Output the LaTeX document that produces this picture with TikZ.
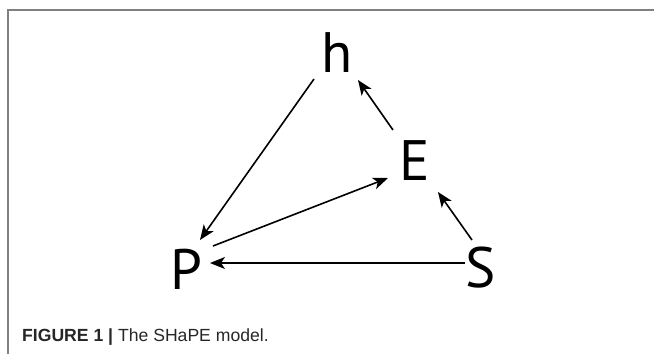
\documentclass[tikz,border=0pt]{standalone}
\usepackage{fontspec}
\setmainfont{Liberation Sans}
\newfontfamily\varfont{PT Sans}
\usetikzlibrary{arrows.meta}

\begin{document}
\begin{tikzpicture}[x=1pt, y=-1pt,
    var/.style={font=\varfont\fontsize{57}{57}\selectfont, inner sep=0pt},
    e/.style={line width=1.6pt, -{Stealth[length=15pt, width=12pt, inset=4pt]}},
    frm/.style={draw=black!50, line width=1.3pt},
    captxt/.style={font=\fontsize{17.6}{19}\selectfont, inner sep=0pt, text=black!85},
  ]
  \useasboundingbox (0,0) rectangle (654,354);
  \draw[frm] (8,354) -- (8,10) -- (654,10);
  \node[var] (h) at (337.5,53) {h};
  \node[var] (E) at (415,161) {E};
  \node[var] (P) at (186,269) {P};
  \node[var] (S) at (481,268) {S};
  \node[captxt, anchor=base west] (fig) at (22,341) {\textbf{FIGURE 1 |} The SHaPE model.};
  \draw[e] ([shift={(-23.5,26)}]h.center) -- ([shift={(14,-29)}]P.center);
  \draw[e] ([shift={(-22,-31)}]E.center) -- ([shift={(20.5,27)}]h.center);
  \draw[e] ([shift={(27,-23)}]P.center) -- ([shift={(-27,17)}]E.center);
  \draw[e] ([shift={(-9,-28)}]S.center) -- ([shift={(23,31)}]E.center);
  \draw[e] ([shift={(-16,-5)}]S.center) -- ([shift={(24,-6)}]P.center);
\end{tikzpicture}
\end{document}
